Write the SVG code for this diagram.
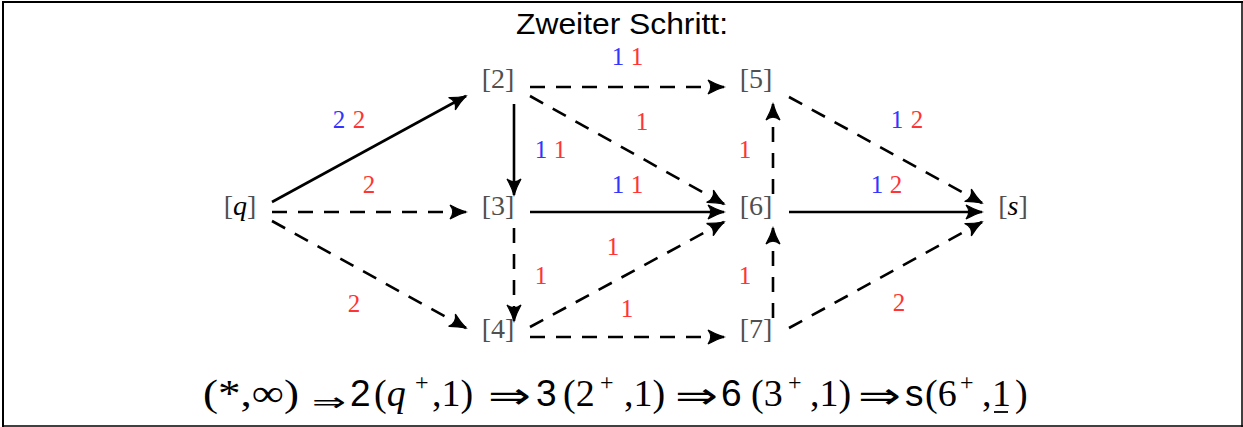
<svg xmlns="http://www.w3.org/2000/svg" width="1243" height="427" viewBox="0 0 1243 427">
<defs>
<style>
.node{font-family:"Liberation Serif","DejaVu Serif",serif;font-size:28px;fill:#505050;text-anchor:middle}
.node .v{fill:#000;font-style:italic}
.lbl{font-family:"Liberation Serif","DejaVu Serif",serif;font-size:25px;text-anchor:middle}
.b{fill:#3434ff}
.r{fill:#ff3434}
.e{fill:none;stroke:#000;stroke-width:2.6}
.d{stroke-dasharray:15 11}
.tm{font-family:"Liberation Serif","Times New Roman",serif;font-size:38px;fill:#000}
.ar{font-family:"Liberation Sans",Arial,sans-serif;font-size:37px;fill:#000}
.ds{font-family:"DejaVu Sans",sans-serif;fill:#000}
.sup{font-family:"Liberation Serif",serif;font-size:24px;fill:#000}
</style>
<marker id="ah" markerUnits="userSpaceOnUse" markerWidth="22" markerHeight="18" viewBox="-18 -9 22 18" refX="0" refY="0" orient="auto">
<path d="M0,0 Q-8,-2.5 -16,-7 Q-10.5,0 -16,7 Q-8,2.5 0,0 Z" fill="#000" stroke="#000" stroke-width="1.2"/>
</marker>
</defs>
<rect width="1243" height="427" fill="#fff"/>
<g id="frame" stroke="#000" fill="none">
<line x1="2" y1="2" x2="1243" y2="2" stroke-width="2"/>
<line x1="3" y1="2" x2="3" y2="427" stroke-width="2"/>
<line x1="1242" y1="2" x2="1242" y2="427" stroke-width="1.5"/>
<line x1="2" y1="426" x2="1243" y2="426" stroke-width="1.5"/>
</g>
<text id="title" x="516" y="34" font-family="Liberation Sans,Arial,sans-serif" font-size="29" textLength="212" lengthAdjust="spacingAndGlyphs">Zweiter Schritt:</text>
<g id="connectors" marker-end="url(#ah)">
<line class="e" x1="272" y1="202" x2="466" y2="96"/>
<line class="e d" x1="272" y1="212" x2="466" y2="212"/>
<line class="e d" x1="272" y1="221" x2="466" y2="328"/>
<line class="e" x1="514" y1="104" x2="514" y2="195"/>
<line class="e d" x1="514" y1="228" x2="514" y2="321"/>
<line class="e d" x1="530" y1="87" x2="724" y2="87"/>
<line class="e d" x1="530" y1="96" x2="724" y2="204"/>
<line class="e" x1="530" y1="212" x2="724" y2="212"/>
<line class="e d" x1="530" y1="327" x2="724" y2="222"/>
<line class="e d" x1="530" y1="337" x2="724" y2="337"/>
<line class="e d" x1="773" y1="194" x2="773" y2="104"/>
<line class="e d" x1="773" y1="318" x2="773" y2="228"/>
<line class="e d" x1="789" y1="97" x2="982" y2="203"/>
<line class="e" x1="789" y1="212" x2="982" y2="212"/>
<line class="e d" x1="789" y1="328" x2="982" y2="222"/>
</g>
<g id="labels" class="lbl">
<text x="339" y="128" class="b">2</text><text x="359" y="128" class="r">2</text>
<text x="369" y="193" class="r">2</text>
<text x="354" y="312" class="r">2</text>
<text x="541" y="158" class="b">1</text><text x="560" y="158" class="r">1</text>
<text x="541" y="284" class="r">1</text>
<text x="618" y="65" class="b">1</text><text x="637" y="65" class="r">1</text>
<text x="642" y="130" class="r">1</text>
<text x="618" y="193" class="b">1</text><text x="637" y="193" class="r">1</text>
<text x="613" y="255" class="r">1</text>
<text x="627" y="317" class="r">1</text>
<text x="745" y="158" class="r">1</text>
<text x="745" y="284" class="r">1</text>
<text x="897" y="128" class="b">1</text><text x="917" y="128" class="r">2</text>
<text x="877" y="193" class="b">1</text><text x="896" y="193" class="r">2</text>
<text x="899" y="311" class="r">2</text>
</g>
<g id="node-q"><text class="node" x="240" y="215">[<tspan class="v">q</tspan>]</text></g>
<g id="node-2"><text class="node" x="498" y="88">[2]</text></g>
<g id="node-3"><text class="node" x="498" y="215">[3]</text></g>
<g id="node-4"><text class="node" x="498" y="338">[4]</text></g>
<g id="node-5"><text class="node" x="756" y="88">[5]</text></g>
<g id="node-6"><text class="node" x="756" y="215">[6]</text></g>
<g id="node-7"><text class="node" x="756" y="338">[7]</text></g>
<g id="node-s"><text class="node" x="1013" y="215">[<tspan class="v">s</tspan>]</text></g>
<g id="formula">
<text class="tm" x="203" y="406" textLength="96" lengthAdjust="spacingAndGlyphs">(*,∞)</text>
<text class="ds" x="312" y="411" font-size="26" textLength="34" lengthAdjust="spacingAndGlyphs">⇒</text>
<text class="ar" x="350" y="406">2</text>
<text class="tm" x="374" y="406">(<tspan font-style="italic">q</tspan></text>
<text class="sup" x="415" y="390">+</text>
<text class="tm" x="432" y="406">,1)</text>
<text class="ds" x="488" y="408" font-size="36" textLength="43" lengthAdjust="spacingAndGlyphs">⇒</text>
<text class="ar" x="536" y="406">3</text>
<text class="tm" x="563" y="406">(2</text>
<text class="sup" x="600" y="390">+</text>
<text class="tm" x="624" y="406">,1)</text>
<text class="ds" x="675" y="408" font-size="36" textLength="43" lengthAdjust="spacingAndGlyphs">⇒</text>
<text class="ar" x="721" y="406">6</text>
<text class="tm" x="751" y="406">(3</text>
<text class="sup" x="788" y="390">+</text>
<text class="tm" x="810" y="406">,1)</text>
<text class="ds" x="858" y="408" font-size="36" textLength="43" lengthAdjust="spacingAndGlyphs">⇒</text>
<text class="ar" x="905" y="406">s</text>
<text class="tm" x="925" y="406">(6</text>
<text class="sup" x="960" y="390">+</text>
<text class="tm" x="982" y="406">,</text>
<text class="tm" x="992" y="406">1</text>
<line x1="994" y1="412" x2="1008" y2="412" stroke="#000" stroke-width="1.8"/>
<text class="tm" x="1015" y="406">)</text>
</g>
</svg>
